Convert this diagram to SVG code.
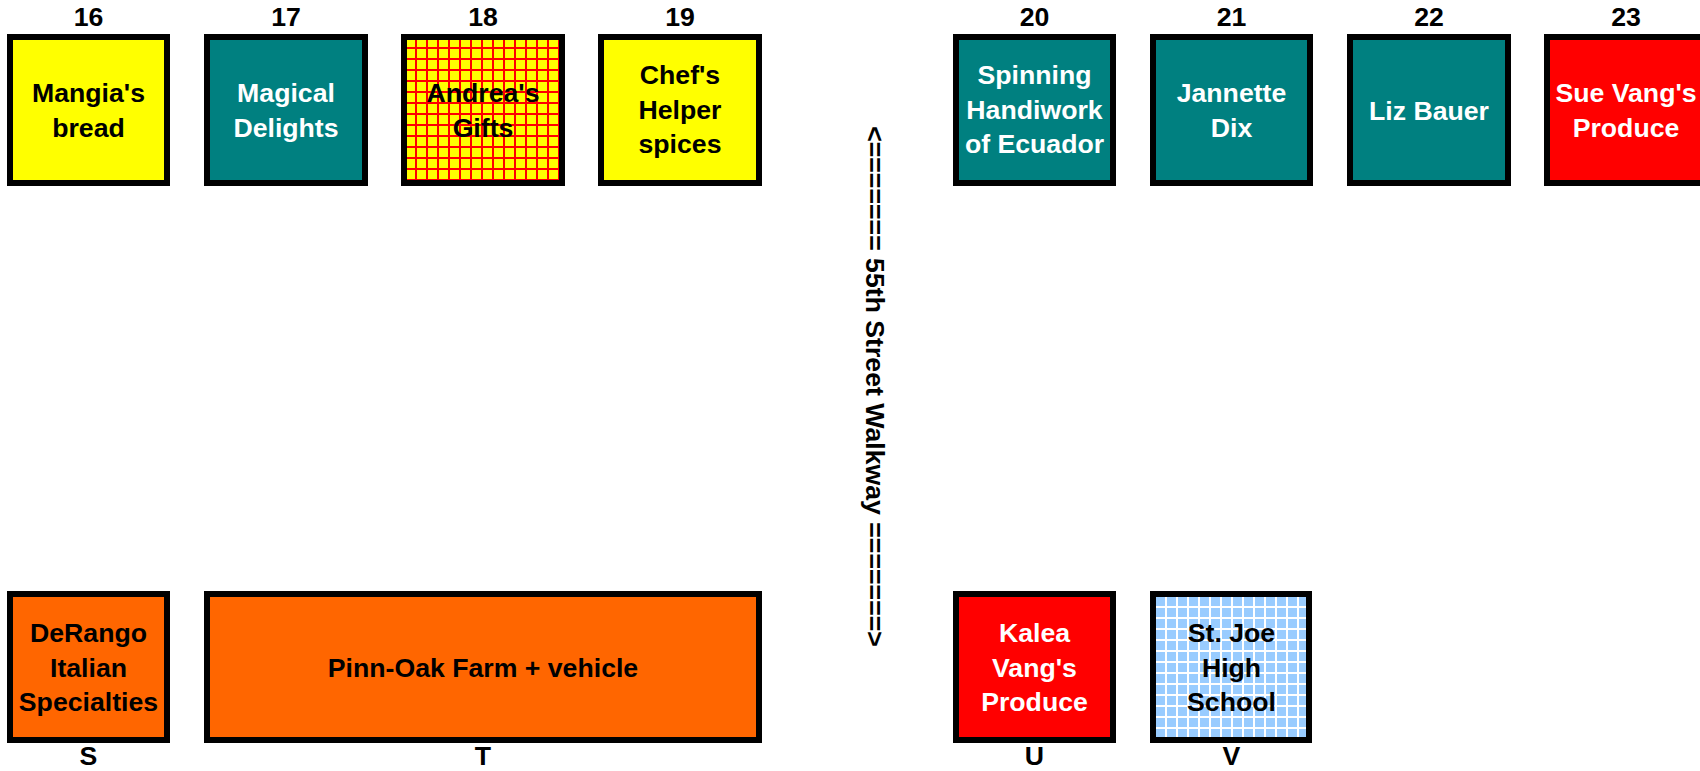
<svg xmlns="http://www.w3.org/2000/svg" width="1700" height="771" viewBox="0 0 1700 771">
<style>
.b{stroke:#000;stroke-width:6}
.t{font-family:"Liberation Sans",Arial,sans-serif;font-weight:bold;font-size:26.67px;text-anchor:middle}
.k{fill:#000}
.w{fill:#fff}
</style>
<defs>
<pattern id="redgrid" x="406" y="38" width="11" height="11" patternUnits="userSpaceOnUse">
<rect width="11" height="11" fill="#FFFF00"/>
<rect x="9" width="2" height="11" fill="#FF0000"/>
<rect y="9" width="11" height="2" fill="#FF0000"/>
</pattern>
<pattern id="bluegrid" x="1155" y="596" width="11" height="11" patternUnits="userSpaceOnUse">
<rect width="11" height="11" fill="#FFFFFF"/>
<rect x="1" y="1" width="9" height="9" fill="#99CCFF"/>
</pattern>
</defs>
<rect width="1700" height="771" fill="#fff"/>
<g id="labels" class="t k">
<text x="88.5" y="26">16</text>
<text x="286" y="26">17</text>
<text x="483" y="26">18</text>
<text x="680" y="26">19</text>
<text x="1034.5" y="26">20</text>
<text x="1231.5" y="26">21</text>
<text x="1429" y="26">22</text>
<text x="1626" y="26">23</text>
<text x="88.5" y="765">S</text>
<text x="483" y="765">T</text>
<text x="1034.5" y="765">U</text>
<text x="1231.5" y="765">V</text>
</g>
<g id="n16"><rect class="b" x="10" y="37" width="157" height="146" fill="#FFFF00"/>
<text class="t k" x="88.5"><tspan x="88.5" y="102">Mangia's</tspan><tspan x="88.5" y="137">bread</tspan></text></g>
<g id="n17"><rect class="b" x="207" y="37" width="158" height="146" fill="#008080"/>
<text class="t w"><tspan x="286" y="102">Magical</tspan><tspan x="286" y="137">Delights</tspan></text></g>
<g id="n18"><rect class="b" x="404" y="37" width="158" height="146" fill="url(#redgrid)"/>
<text class="t k"><tspan x="483" y="102">Andrea's</tspan><tspan x="483" y="137">Gifts</tspan></text></g>
<g id="n19"><rect class="b" x="601" y="37" width="158" height="146" fill="#FFFF00"/>
<text class="t k"><tspan x="680" y="84">Chef's</tspan><tspan x="680" y="118.5">Helper</tspan><tspan x="680" y="153">spices</tspan></text></g>
<g id="n20"><rect class="b" x="956" y="37" width="157" height="146" fill="#008080"/>
<text class="t w"><tspan x="1034.5" y="84">Spinning</tspan><tspan x="1034.5" y="118.5">Handiwork</tspan><tspan x="1034.5" y="153">of Ecuador</tspan></text></g>
<g id="n21"><rect class="b" x="1153" y="37" width="157" height="146" fill="#008080"/>
<text class="t w"><tspan x="1231.5" y="102">Jannette</tspan><tspan x="1231.5" y="137">Dix</tspan></text></g>
<g id="n22"><rect class="b" x="1350" y="37" width="158" height="146" fill="#008080"/>
<text class="t w" x="1429" y="119.5">Liz Bauer</text></g>
<g id="n23"><rect class="b" x="1547" y="37" width="158" height="146" fill="#FF0000"/>
<text class="t w"><tspan x="1626" y="102">Sue Vang's</tspan><tspan x="1626" y="137">Produce</tspan></text></g>
<g id="nS"><rect class="b" x="10" y="594" width="157" height="146" fill="#FF6600"/>
<text class="t k"><tspan x="88.5" y="642">DeRango</tspan><tspan x="88.5" y="676.5">Italian</tspan><tspan x="88.5" y="711">Specialties</tspan></text></g>
<g id="nT"><rect class="b" x="207" y="594" width="552" height="146" fill="#FF6600"/>
<text class="t k" x="483" y="676.5">Pinn-Oak Farm + vehicle</text></g>
<g id="nU"><rect class="b" x="956" y="594" width="157" height="146" fill="#FF0000"/>
<text class="t w"><tspan x="1034.5" y="642">Kalea</tspan><tspan x="1034.5" y="676.5">Vang's</tspan><tspan x="1034.5" y="711">Produce</tspan></text></g>
<g id="nV"><rect class="b" x="1153" y="594" width="156" height="146" fill="url(#bluegrid)"/>
<text class="t k"><tspan x="1231.5" y="642">St. Joe</tspan><tspan x="1231.5" y="676.5">High</tspan><tspan x="1231.5" y="711">School</tspan></text></g>
<g id="connectors">
<text class="t k" transform="translate(875,386.5) rotate(90)" x="0" y="9.5">&lt;======= 55th Street Walkway =======&gt;</text>
</g>
</svg>
